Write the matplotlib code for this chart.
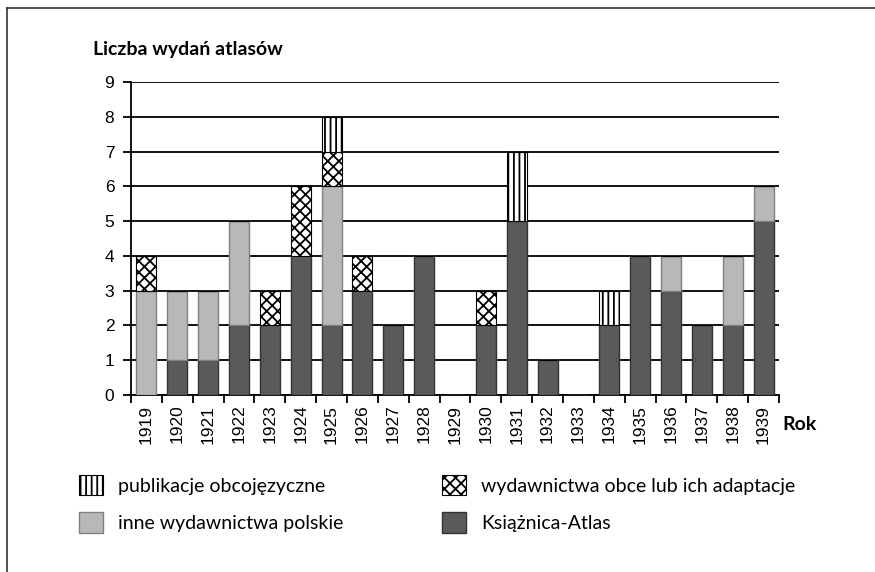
import matplotlib
matplotlib.use("Agg")
import matplotlib.pyplot as plt
from matplotlib.lines import Line2D
import numpy as np

years = [str(y) for y in range(1919, 1940)]
ksiaznica = [0, 1, 1, 2, 2, 4, 2, 3, 2, 4, 0, 2, 5, 1, 0, 2, 4, 3, 2, 2, 5]
inne_pl   = [3, 2, 2, 3, 0, 0, 4, 0, 0, 0, 0, 0, 0, 0, 0, 0, 0, 1, 0, 2, 1]
obce      = [1, 0, 0, 0, 1, 2, 1, 1, 0, 0, 0, 1, 0, 0, 0, 0, 0, 0, 0, 0, 0]
obcojez   = [0, 0, 0, 0, 0, 0, 1, 0, 0, 0, 0, 0, 2, 0, 0, 1, 0, 0, 0, 0, 0]
yticks = list(range(0, 10))

label_font = "Lato"
tick_font = "Liberation Sans"

plt.rcParams['hatch.linewidth'] = 1.3
plt.rcParams['hatch.color'] = 'black'

fig = plt.figure(figsize=(8.75, 5.72), dpi=100)
W, H = 875, 572
ax = fig.add_axes([131 / W, 1 - 395 / H, (779 - 131) / W, (395 - 82) / H])

x = np.arange(len(years))
bw = 0.65
ks = np.array(ksiaznica)
ip = np.array(inne_pl)
ob = np.array(obce)
oj = np.array(obcojez)

b1 = ax.bar(x, ks, bw, color='#5a5a5a', edgecolor='#333333', linewidth=1.0, zorder=3)
b2 = ax.bar(x, ip, bw, bottom=ks, color='#b8b8b8', edgecolor='#808080', linewidth=1.0, zorder=3)
b3 = ax.bar(x, ob, bw, bottom=ks + ip, color='white', edgecolor='black', hatch='xxx', linewidth=0.8, zorder=3)
b4 = ax.bar(x, oj, bw, bottom=ks + ip + ob, color='white', edgecolor='black', hatch='|||', linewidth=0.8, zorder=3)

ax.set_xlim(-0.5, len(years) - 0.5)
ax.set_ylim(0, 9)
ax.set_yticks(yticks)
ax.set_yticklabels([str(v) for v in yticks], fontfamily=tick_font, fontsize=12.5)
ax.yaxis.grid(True, color='black', linewidth=1.3, zorder=0)
ax.set_axisbelow(True)

ax.set_xticks(np.arange(len(years) + 1) - 0.5)
ax.set_xticklabels([])
ax.set_xticks(x, minor=True)
ax.set_xticklabels(years, minor=True, rotation=90, fontfamily=tick_font, fontsize=12.5)
ax.tick_params(axis='x', which='minor', length=0, pad=7)
ax.tick_params(axis='x', which='major', length=6, width=1.3, direction='out')
ax.tick_params(axis='y', length=6, width=1.3, direction='out', pad=6)

for s in ['top', 'right']:
    ax.spines[s].set_visible(False)
for s in ['left', 'bottom']:
    ax.spines[s].set_linewidth(1.3)
    ax.spines[s].set_color('black')

fig.text(93 / W, 1 - 50 / H, "Liczba wydań atlasów", fontfamily=label_font, fontweight='bold',
         fontsize=14, va='center', ha='left')
fig.text(782 / W, 1 - 424 / H, "Rok", fontfamily=label_font, fontweight='bold',
         fontsize=14, va='center', ha='left')

fs_pt = 14
fs_px = fs_pt * 100 / 72
leg_kw = dict(loc='upper left', frameon=False, borderpad=0, borderaxespad=0,
              prop={'family': label_font, 'size': fs_pt},
              handlelength=24 / fs_px, handleheight=24 / fs_px,
              handletextpad=15 / fs_px, labelspacing=(41 - 24) / fs_px)
leg1 = fig.legend([b4, b2], ["publikacje obcojęzyczne", "inne wydawnictwa polskie"],
                  bbox_to_anchor=(79 / W, 1 - 475 / H), **leg_kw)
leg2 = fig.legend([b3, b1], ["wydawnictwa obce lub ich adaptacje", "Książnica-Atlas"],
                  bbox_to_anchor=(442 / W, 1 - 475 / H), **leg_kw)

# figure frame lines (top and left)
fig.add_artist(Line2D([7 / W, 1], [1 - 8 / H, 1 - 8 / H], color='#333333', linewidth=1.2,
                      transform=fig.transFigure))
fig.add_artist(Line2D([7 / W, 7 / W], [0, 1 - 8 / H], color='#333333', linewidth=1.2,
                      transform=fig.transFigure))

fig.savefig("out.png", dpi=100)
